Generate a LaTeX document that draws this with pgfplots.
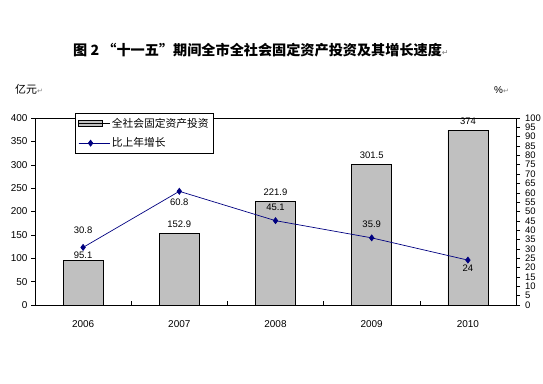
\documentclass[border=0pt]{standalone}
\usepackage{pgfplots}
\pgfplotsset{compat=1.18}
\usepackage{pgfplotstable}
\usepackage{fontspec}
\setmainfont{Liberation Sans}
\newfontfamily\cjk{Noto Sans CJK SC}
\newfontfamily\dejavu{DejaVu Sans}
\definecolor{barc}{RGB}{192,192,192}
\definecolor{navy}{RGB}{0,0,128}
\pgfplotsset{mylineleg/.style={legend image code/.code={\draw[mark repeat=2,mark phase=2,##1] plot coordinates {(0bp,0bp) (12bp,0bp) (24bp,0bp)};\path (0bp,0bp) -- (31bp,0bp);}}}

\pgfplotstableread{
x val dy
1 95.1 5
2 152.9 9
3 221.9 9
4 301.5 9
5 374 9
}\bars
\pgfplotstableread{
x val dy
1 30.8 17
2 60.8 -11
3 45.1 13
4 35.9 14
5 24 -8
}\growth

\begin{document}
\begin{tikzpicture}
\path[use as bounding box] (0,0) rectangle (543bp,384bp);
\node[anchor=west,inner sep=0pt,font=\cjk\bfseries\fontsize{14.2}{16}\selectfont] at (73bp,334bp) {图 2 “十一五”期间全市全社会固定资产投资及其增长速度{\dejavu\mdseries\color{gray}\fontsize{8}{8}\selectfont ↵}};
\node[anchor=west,inner sep=0pt,font=\cjk\fontsize{11}{12}\selectfont] at (15bp,295bp) {亿元{\dejavu\color{gray}\fontsize{7}{7}\selectfont ↵}};
\node[anchor=west,inner sep=0pt,font=\fontsize{10}{12}\selectfont] at (494bp,294bp) {\%{\dejavu\color{gray}\fontsize{7}{7}\selectfont ↵}};

\begin{axis}[
  at={(35bp,79bp)}, anchor=south west, scale only axis,
  width=481bp, height=187bp,
  xmin=0.5, xmax=5.5, ymin=0, ymax=400,
  ytick={0,50,...,400}, ytick pos=left,
  xtick={1.5,2.5,3.5,4.5}, xticklabels={},
  extra x ticks={1,2,3,4,5},
  extra x tick labels={2006,2007,2008,2009,2010},
  extra x tick style={major tick length=0pt, tick label style={font=\fontsize{10}{12}\selectfont, yshift=-12bp}},
  xtick pos=bottom,
  tick align=outside, major tick length=4bp,
  major x tick style={yshift=4bp},
  tick style={black, line width=0.5pt},
  axis line style={black, line width=0.6pt},
  yticklabel style={font=\fontsize{10}{12}\selectfont},
  /pgf/number format/assume math mode=true,
]
\addplot[ybar, bar width=40bp, fill=barc, draw=black, line width=0.6pt,
  nodes near coords, point meta=explicit symbolic,
  visualization depends on={\thisrow{dy} \as \dy},
  every node near coord/.append style={anchor=center, yshift=\dy bp, font=\fontsize{9.5}{11}\selectfont, black}]
  table[x=x, y=val, meta=val] {\bars};
\end{axis}

\begin{axis}[
  at={(35bp,79bp)}, anchor=south west, scale only axis,
  width=481bp, height=187bp,
  xmin=0.5, xmax=5.5, ymin=0, ymax=100,
  hide x axis, axis y line*=right,
  ytick={0,5,...,100},
  tick align=outside, major tick length=4bp,
  tick style={black, line width=0.5pt},
  axis line style={black, line width=0.6pt},
  yticklabel style={font=\fontsize{9.5}{10}\selectfont, xshift=1.5bp},
  /pgf/number format/assume math mode=true,
  legend style={at={(axis description cs:0.083,1.027)}, anchor=north west,
    draw=black, fill=white, line width=0.6pt,
    font=\cjk\fontsize{10.8}{12}\selectfont,
    row sep=5bp, inner xsep=3bp, inner ysep=3bp},
  legend cell align=left,
]
\addlegendimage{legend image code/.code={\draw[black,fill=barc,line width=0.6pt] (0bp,-3bp) rectangle (24bp,3bp);\path (0bp,0bp) -- (31bp,0bp);}}
\addlegendentry{全社会固定资产投资}
\addplot[navy, line width=0.7pt, mark=diamond*, mark size=3bp, mark options={fill=navy},
  nodes near coords, point meta=explicit symbolic,
  visualization depends on={\thisrow{dy} \as \dy},
  every node near coord/.append style={anchor=center, yshift=\dy bp, font=\fontsize{9.5}{11}\selectfont, black},
  mylineleg]
  table[x=x, y=val, meta=val] {\growth};
\addlegendentry{比上年增长}
\end{axis}
\end{tikzpicture}
\end{document}
